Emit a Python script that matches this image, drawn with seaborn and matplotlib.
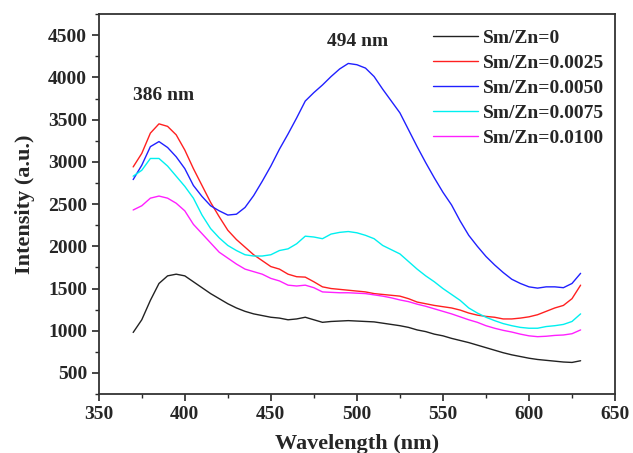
import numpy as np
import pandas as pd
import seaborn as sns
import matplotlib.pyplot as plt
from matplotlib.ticker import MultipleLocator

# wavelength grid (nm)
wavelength = list(range(370, 635, 5))

# intensities
sm_0 = [980, 1130, 1360, 1560, 1650, 1670, 1650, 1580, 1510, 1440, 1380, 1320,
        1270, 1230, 1200, 1180, 1160, 1150, 1130, 1140, 1160, 1130, 1100, 1110,
        1115, 1120, 1115, 1110, 1105, 1090, 1075, 1060, 1040, 1010, 990, 960,
        940, 910, 885, 860, 830, 800, 770, 740, 715, 695, 675, 660, 650, 640,
        630, 625, 645]
sm_0025 = [2940, 3100, 3340, 3450, 3420, 3320, 3140, 2920, 2720, 2520, 2350,
           2190, 2080, 1990, 1900, 1830, 1760, 1730, 1670, 1640, 1635, 1580,
           1520, 1500, 1490, 1480, 1470, 1460, 1440, 1430, 1420, 1410, 1380,
           1340, 1320, 1300, 1285, 1270, 1245, 1210, 1185, 1170, 1160, 1140,
           1140, 1150, 1165, 1190, 1230, 1270, 1300, 1380, 1540]
sm_0050 = [2790, 2960, 3180, 3240, 3170, 3060, 2920, 2720, 2590, 2480, 2420,
           2370, 2380, 2460, 2600, 2770, 2950, 3150, 3330, 3520, 3720, 3820,
           3910, 4010, 4100, 4165, 4150, 4110, 4010, 3860, 3720, 3580, 3380,
           3180, 2990, 2810, 2640, 2490, 2300, 2130, 2000, 1880, 1780, 1690,
           1610, 1560, 1520, 1505, 1520, 1520, 1510, 1560, 1680]
sm_0075 = [2830, 2900, 3040, 3040, 2950, 2830, 2710, 2570, 2370, 2210, 2100,
           2010, 1950, 1900, 1885, 1885, 1900, 1950, 1970, 2030, 2120, 2110,
           2090, 2145, 2165, 2175, 2160, 2130, 2090, 2010, 1960, 1910, 1820,
           1730, 1650, 1580, 1500, 1430, 1360, 1270, 1210, 1160, 1120, 1085,
           1060, 1040, 1030, 1030, 1050, 1060, 1075, 1110, 1200]
sm_0100 = [2430, 2480, 2570, 2595, 2570, 2510, 2420, 2260, 2150, 2040, 1930,
           1860, 1790, 1730, 1700, 1670, 1620, 1590, 1540, 1530, 1540, 1510,
           1460, 1455, 1450, 1450, 1445, 1440, 1425, 1410, 1390, 1365, 1345,
           1315, 1290, 1260, 1230, 1200, 1165, 1130, 1100, 1060, 1030, 1005,
           985, 960, 940, 930, 935, 945, 950, 965, 1010]

labels = ['Sm/Zn=0', 'Sm/Zn=0.0025', 'Sm/Zn=0.0050', 'Sm/Zn=0.0075', 'Sm/Zn=0.0100']
colors = ['#222222', '#ff2020', '#2020ff', '#00f0f0', '#ff20ff']

df = pd.concat([
    pd.DataFrame({'Wavelength': wavelength, 'Intensity': s, 'sample': lab})
    for s, lab in zip([sm_0, sm_0025, sm_0050, sm_0075, sm_0100], labels)
])

sns.set_style('ticks')
plt.rcParams['font.family'] = ['Liberation Serif', 'DejaVu Serif']
plt.rcParams['font.weight'] = 'bold'

fig = plt.figure(figsize=(6.33, 4.53), dpi=100)
ax = fig.add_axes([0.156, 0.130, 0.8156, 0.839])

sns.lineplot(data=df, x='Wavelength', y='Intensity', hue='sample',
             palette=colors, linewidth=1.0, ax=ax, sort=False)

ax.set_xlim(350, 650)
ax.set_ylim(250, 4750)
ax.xaxis.set_major_locator(MultipleLocator(50))
ax.xaxis.set_minor_locator(MultipleLocator(25))
ax.yaxis.set_major_locator(MultipleLocator(500))
ax.yaxis.set_minor_locator(MultipleLocator(250))
ax.tick_params(which='major', length=5, width=1.2, labelsize=14, direction='out')
ax.tick_params(which='minor', length=3, width=1.0, direction='out')
for lab in ax.get_xticklabels() + ax.get_yticklabels():
    lab.set_fontweight('bold')
for sp in ax.spines.values():
    sp.set_linewidth(1.3)
    sp.set_color('#333333')

ax.set_xlabel('Wavelength (nm)', fontsize=16, fontweight='bold', labelpad=8)
ax.set_ylabel('Intensity (a.u.)', fontsize=16, fontweight='bold', labelpad=9)

ax.text(370, 3780, '386 nm', fontsize=14, fontweight='bold', va='center')
ax.text(482.5, 4420, '494 nm', fontsize=14, fontweight='bold', va='center')

ax.legend(loc='upper left', bbox_to_anchor=(0.632, 0.98), frameon=False,
          handlelength=2.3, handletextpad=0.3, labelspacing=0.38,
          borderaxespad=0, prop={'weight': 'bold', 'size': 14})

fig.savefig('out.png', dpi=100)
